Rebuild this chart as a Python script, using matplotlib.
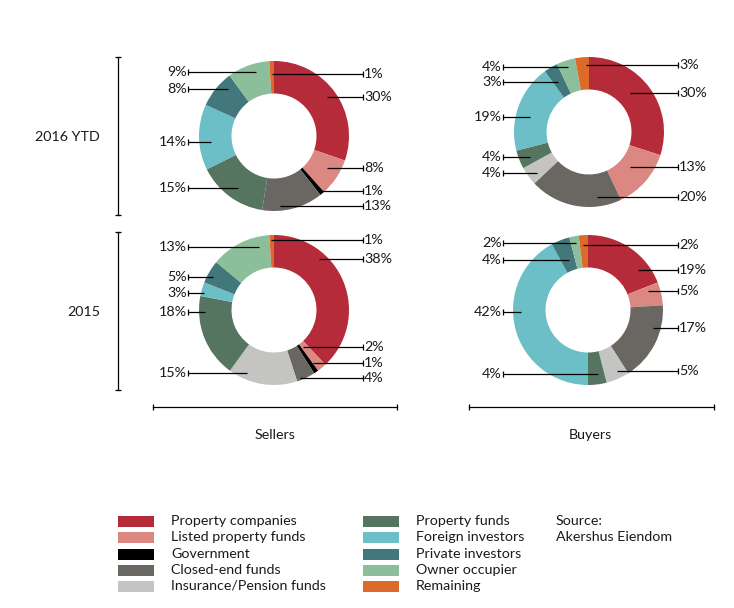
import matplotlib
matplotlib.use("Agg")
import matplotlib.pyplot as plt

W, H = 734, 608

# kategorie (kolejnosc segmentow zgodnie z ruchem wskazowek zegara od gory)
kategorie = ["Property companies", "Listed property funds", "Government",
             "Closed-end funds", "Insurance/Pension funds", "Property funds",
             "Foreign investors", "Private investors", "Owner occupier", "Remaining"]
kolory = ["#B52B3A", "#DB8882", "#000000", "#6A6762", "#C4C4C2",
          "#567561", "#6CBFC7", "#42777B", "#8DBE9B", "#DC6A2A"]

# udzialy w %
sprzedajacy_2016 = [30, 8, 1, 13, 0, 15, 14, 8, 9, 1]
kupujacy_2016 = [30, 13, 0, 20, 4, 4, 19, 3, 4, 3]
sprzedajacy_2015 = [38, 2, 1, 4, 15, 18, 3, 5, 13, 1]
kupujacy_2015 = [19, 5, 0, 17, 5, 4, 42, 4, 2, 2]

# uklad: srodek donutu (px), x etykiet lewych/prawych,
# dla kazdego segmentu: (strona, y etykiety, x poczatku linii)
uklad = [
    (sprzedajacy_2016, (274, 136), 188, 363,
     [("R", 97, 327), ("R", 168, 327), ("R", 191, 322), ("R", 206, 280), None,
      ("L", 188, 238), ("L", 142, 211), ("L", 89, 228), ("L", 72, 256),
      ("R", 74, 272)]),
    (kupujacy_2016, (589, 132), 503, 678,
     [("R", 93, 630), ("R", 167, 630), None, ("R", 197, 597), ("L", 173, 537),
      ("L", 157, 530), ("L", 117, 530), ("L", 82, 558), ("L", 67, 568),
      ("R", 65, 586)]),
    (sprzedajacy_2015, (274, 310), 188, 363,
     [("R", 259, 319), ("R", 347, 303), ("R", 363, 313), ("R", 378, 300),
      ("L", 373, 247), ("L", 312, 205), ("L", 293, 204), ("L", 277, 213),
      ("L", 247, 259), ("R", 240, 271)]),
    (kupujacy_2015, (588, 310), 503, 678,
     [("R", 270, 638), ("R", 291, 648), None, ("R", 328, 653), ("R", 371, 617),
      ("L", 374, 598), ("L", 312, 521), ("L", 260, 569), ("L", 243, 576),
      ("R", 245, 583)]),
]

R = 75
szer = 32.5
czcionka = "Lato"
rozm = 10.3
kolor_tekstu = "#1a1a1a"

fig = plt.figure(figsize=(W / 100, H / 100), dpi=100)
ax = fig.add_axes([0, 0, 1, 1])


def Y(y):  # piksele od gory -> dane
    return H - y


for wartosci, (cx, cy), x_lewy, x_prawy, etykiety in uklad:
    ax.pie(wartosci, colors=kolory, startangle=90, counterclock=False,
           radius=R, center=(cx, Y(cy)),
           wedgeprops=dict(width=szer, linewidth=0))
    for v, e in zip(wartosci, etykiety):
        if e is None or v == 0:
            continue
        strona, ly, axx = e
        xk = x_prawy if strona == "R" else x_lewy
        ax.plot([axx, xk], [Y(ly), Y(ly)], color="black", lw=0.9,
                solid_capstyle="butt")
        ax.plot([xk], [Y(ly)], marker="|", color="black", ms=4, mew=0.9)
        if strona == "R":
            ax.text(xk + 1, Y(ly), f"{v}%", ha="left", va="center",
                    family=czcionka, fontsize=rozm, color=kolor_tekstu)
        else:
            ax.text(xk - 1, Y(ly), f"{v}%", ha="right", va="center",
                    family=czcionka, fontsize=rozm, color=kolor_tekstu)

# linie opisu wierszy i kolumn
for y0, y1 in [(57, 215), (232, 390)]:
    ax.plot([118, 118], [Y(y0), Y(y1)], color="black", lw=0.9)
    ax.plot([118, 118], [Y(y0), Y(y1)], ls="none", marker="_", ms=5,
            mew=0.9, color="black")
for x0, x1 in [(153, 397), (469, 714)]:
    ax.plot([x0, x1], [Y(407), Y(407)], color="black", lw=0.9)
    ax.plot([x0, x1], [Y(407), Y(407)], ls="none", marker="|", ms=5,
            mew=0.9, color="black")

ax.text(100, Y(137), "2016 YTD", ha="right", va="center", family=czcionka,
        fontsize=rozm, color=kolor_tekstu)
ax.text(100, Y(312), "2015", ha="right", va="center", family=czcionka,
        fontsize=rozm, color=kolor_tekstu)
ax.text(275, Y(435), "Sellers", ha="center", va="center", family=czcionka,
        fontsize=rozm, color=kolor_tekstu)
ax.text(590, Y(435), "Buyers", ha="center", va="center", family=czcionka,
        fontsize=rozm, color=kolor_tekstu)

# legenda
wiersze = [521, 537, 554, 570, 586]
for i, (nazwa, kol) in enumerate(zip(kategorie, kolory)):
    kol_x = 118 if i < 5 else 363
    y = wiersze[i % 5]
    ax.add_patch(plt.Rectangle((kol_x, Y(y) - 5.5), 36, 11, color=kol, lw=0))
    ax.text(kol_x + 53, Y(y), nazwa, ha="left", va="center", family=czcionka,
            fontsize=rozm, color=kolor_tekstu)
ax.text(556, Y(521), "Source:", ha="left", va="center", family=czcionka,
        fontsize=rozm, color=kolor_tekstu)
ax.text(556, Y(537), "Akershus Eiendom", ha="left", va="center",
        family=czcionka, fontsize=rozm, color=kolor_tekstu)

ax.set_xlim(0, W)
ax.set_ylim(0, H)
ax.set_aspect("equal")
ax.axis("off")

plt.savefig("out.png", dpi=100, facecolor="white")
